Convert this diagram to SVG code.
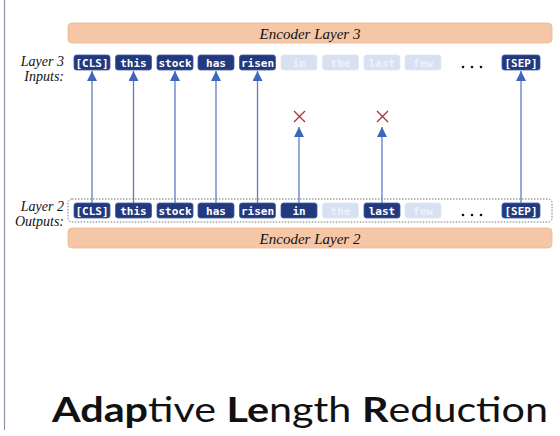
<svg xmlns="http://www.w3.org/2000/svg" width="560" height="436" viewBox="0 0 560 436">
<defs>
<style>
.bar{fill:#f6c7a6;stroke:#eeb893;stroke-width:0.8}
.bartxt{font-family:"Liberation Serif",serif;font-style:italic;font-size:15px;fill:#111;text-anchor:middle}
.lbl{font-family:"Liberation Serif",serif;font-style:italic;font-size:14px;fill:#111;text-anchor:end}
.tok{fill:#22397e;stroke:#3f5ea8;stroke-width:0.8}
.ftok{fill:#d7e1f1;stroke:#dfe7f4;stroke-width:0.8}
.tt{font-family:"DejaVu Sans Mono",monospace;font-weight:bold;font-size:11px;fill:#ffffff;text-anchor:middle}
.ft{font-family:"DejaVu Sans Mono",monospace;font-weight:bold;font-size:11px;fill:#eef2f9;text-anchor:middle}
.arr{stroke:#5b7cc4;stroke-width:1.3;fill:none}
.x{stroke:#a8323a;stroke-width:1.3}
.dot{fill:#111}
</style>
<marker id="ah" markerWidth="10" markerHeight="10" refX="10" refY="5" orient="auto" markerUnits="userSpaceOnUse" viewBox="0 0 10 10">
<path d="M0,0 L10,5 L0,10 Z" fill="#3f66bd"/>
</marker>
</defs>
<rect width="560" height="436" fill="#ffffff"/>
<line x1="4.5" y1="0" x2="4.5" y2="430" stroke="#8d96a6" stroke-width="1.2"/>

<g id="encoder3"><rect class="bar" x="68" y="23" width="484" height="20" rx="4"/><text class="bartxt" x="310" y="38.5">Encoder Layer 3</text></g>
<g id="encoder2"><rect class="bar" x="68" y="228" width="484" height="20" rx="4"/><text class="bartxt" x="310" y="243.5">Encoder Layer 2</text></g>

<g id="labels">
<text class="lbl" x="64" y="66">Layer 3</text>
<text class="lbl" x="64" y="81">Inputs:</text>
<text class="lbl" x="64" y="211">Layer 2</text>
<text class="lbl" x="64" y="226">Outputs:</text>
</g>

<g id="layer2box"><rect x="68" y="199" width="484" height="23" rx="4" fill="none" stroke="#777" stroke-width="1" stroke-dasharray="1.5,1.5"/></g>

<g id="layer3tokens">
<g id="l3-cls"><rect class="tok" x="74" y="55" width="36" height="15" rx="2.5"/><text class="tt" x="92" y="66.5">[CLS]</text></g>
<g id="l3-this"><rect class="tok" x="115.5" y="55" width="36" height="15" rx="2.5"/><text class="tt" x="133.5" y="66.5">this</text></g>
<g id="l3-stock"><rect class="tok" x="157" y="55" width="36" height="15" rx="2.5"/><text class="tt" x="175" y="66.5">stock</text></g>
<g id="l3-has"><rect class="tok" x="198" y="55" width="36" height="15" rx="2.5"/><text class="tt" x="216" y="66.5">has</text></g>
<g id="l3-risen"><rect class="tok" x="239.5" y="55" width="36" height="15" rx="2.5"/><text class="tt" x="257.5" y="66.5">risen</text></g>
<g id="l3-in"><rect class="ftok" x="281" y="55" width="36" height="15" rx="2.5"/><text class="ft" x="299" y="66.5">in</text></g>
<g id="l3-the"><rect class="ftok" x="322.5" y="55" width="36" height="15" rx="2.5"/><text class="ft" x="340.5" y="66.5">the</text></g>
<g id="l3-last"><rect class="ftok" x="364" y="55" width="36" height="15" rx="2.5"/><text class="ft" x="382" y="66.5">last</text></g>
<g id="l3-few"><rect class="ftok" x="405" y="55" width="36" height="15" rx="2.5"/><text class="ft" x="423" y="66.5">few</text></g>
<g id="l3-dots"><circle class="dot" cx="463" cy="67" r="1.3"/><circle class="dot" cx="472" cy="67" r="1.3"/><circle class="dot" cx="481" cy="67" r="1.3"/></g>
<g id="l3-sep"><rect class="tok" x="502" y="55" width="38" height="15" rx="2.5"/><text class="tt" x="521" y="66.5">[SEP]</text></g>
</g>

<g id="layer2tokens">
<g id="l2-cls"><rect class="tok" x="74" y="203" width="36" height="15" rx="2.5"/><text class="tt" x="92" y="214.5">[CLS]</text></g>
<g id="l2-this"><rect class="tok" x="115.5" y="203" width="36" height="15" rx="2.5"/><text class="tt" x="133.5" y="214.5">this</text></g>
<g id="l2-stock"><rect class="tok" x="157" y="203" width="36" height="15" rx="2.5"/><text class="tt" x="175" y="214.5">stock</text></g>
<g id="l2-has"><rect class="tok" x="198" y="203" width="36" height="15" rx="2.5"/><text class="tt" x="216" y="214.5">has</text></g>
<g id="l2-risen"><rect class="tok" x="239.5" y="203" width="36" height="15" rx="2.5"/><text class="tt" x="257.5" y="214.5">risen</text></g>
<g id="l2-in"><rect class="tok" x="281" y="203" width="36" height="15" rx="2.5"/><text class="tt" x="299" y="214.5">in</text></g>
<g id="l2-the"><rect class="ftok" x="322.5" y="203" width="36" height="15" rx="2.5"/><text class="ft" x="340.5" y="214.5">the</text></g>
<g id="l2-last"><rect class="tok" x="364" y="203" width="36" height="15" rx="2.5"/><text class="tt" x="382" y="214.5">last</text></g>
<g id="l2-few"><rect class="ftok" x="405" y="203" width="36" height="15" rx="2.5"/><text class="ft" x="423" y="214.5">few</text></g>
<g id="l2-dots"><circle class="dot" cx="463" cy="215" r="1.3"/><circle class="dot" cx="472" cy="215" r="1.3"/><circle class="dot" cx="481" cy="215" r="1.3"/></g>
<g id="l2-sep"><rect class="tok" x="502" y="203" width="38" height="15" rx="2.5"/><text class="tt" x="521" y="214.5">[SEP]</text></g>
</g>

<g id="connectors">
<line class="arr" x1="92" y1="203" x2="92" y2="71" marker-end="url(#ah)"/>
<line class="arr" x1="133.5" y1="203" x2="133.5" y2="71" marker-end="url(#ah)"/>
<line class="arr" x1="175" y1="203" x2="175" y2="71" marker-end="url(#ah)"/>
<line class="arr" x1="216" y1="203" x2="216" y2="71" marker-end="url(#ah)"/>
<line class="arr" x1="257.5" y1="203" x2="257.5" y2="71" marker-end="url(#ah)"/>
<line class="arr" x1="299" y1="203" x2="299" y2="127" marker-end="url(#ah)"/>
<line class="arr" x1="382" y1="203" x2="382" y2="127" marker-end="url(#ah)"/>
<line class="arr" x1="521" y1="203" x2="521" y2="71" marker-end="url(#ah)"/>
</g>

<g id="crosses">
<path class="x" d="M294,111 L305,122 M305,111 L294,122"/>
<path class="x" d="M377,111 L388,122 M388,111 L377,122"/>
</g>

<g id="title">
<text x="52" y="422" textLength="496" lengthAdjust="spacingAndGlyphs" font-family="Lato, 'Open Sans', sans-serif" font-size="35" fill="#111"><tspan font-weight="bold">Adap</tspan><tspan font-weight="normal">tive </tspan><tspan font-weight="bold">Le</tspan><tspan font-weight="normal">ngth </tspan><tspan font-weight="bold">R</tspan><tspan font-weight="normal">eduction</tspan></text>
</g>
</svg>
